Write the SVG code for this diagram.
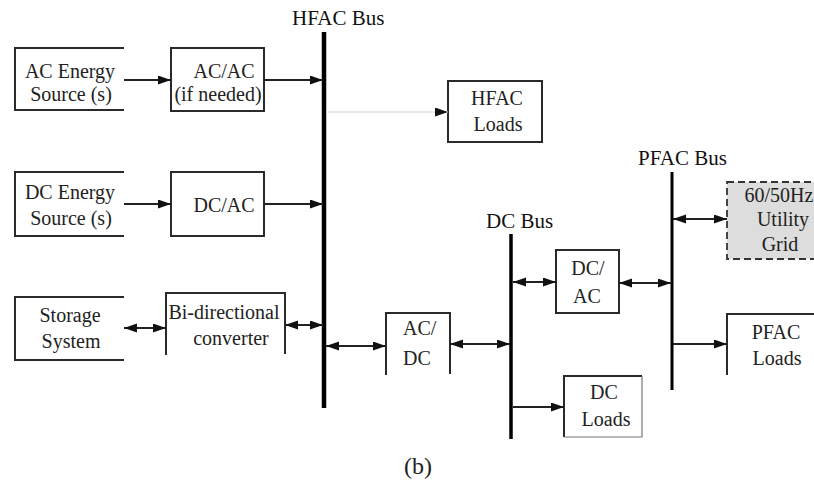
<svg xmlns="http://www.w3.org/2000/svg" width="814" height="484" viewBox="0 0 814 484">
<style>
  .box { fill: none; stroke: #2a2a2a; stroke-width: 2; }
  .t { font-family: "Liberation Serif", "Times New Roman", serif; font-size: 20px; fill: #222; text-anchor: middle; }
  .lbl { font-family: "Liberation Serif", "Times New Roman", serif; font-size: 21px; fill: #111; text-anchor: start; }
  .bus { stroke: #000; fill: none; }
  .c { stroke: #222; stroke-width: 2; fill: none; marker-end: url(#ah); }
  .cb { stroke: #222; stroke-width: 2; fill: none; marker-end: url(#ah); marker-start: url(#ah); }
</style>
<defs>
  <marker id="ah" markerUnits="userSpaceOnUse" markerWidth="14" markerHeight="10" refX="13" refY="4.5" orient="auto-start-reverse">
    <path d="M0,0 L13,4.5 L0,9 z" fill="#111"/>
  </marker>
</defs>
<rect width="814" height="484" fill="#fff"/>

<g id="buses">
  <g id="hfac-bus">
    <line class="bus" x1="324" y1="32" x2="324" y2="408" stroke-width="4.5"/>
    <text class="lbl" x="292" y="25">HFAC Bus</text>
  </g>
  <g id="dc-bus">
    <line class="bus" x1="511" y1="234" x2="511" y2="439" stroke-width="3.5"/>
    <text class="lbl" x="486" y="228">DC Bus</text>
  </g>
  <g id="pfac-bus">
    <line class="bus" x1="672" y1="172" x2="672" y2="390" stroke-width="3"/>
    <text class="lbl" x="638" y="165">PFAC Bus</text>
  </g>
</g>

<g id="ac-source">
  <path class="box" d="M124,48 H15 V110 H124"/>
  <text class="t" x="70" y="78">AC Energy</text>
  <text class="t" x="71" y="101">Source (s)</text>
</g>
<g id="acac">
  <rect class="box" x="171" y="48" width="93" height="63"/>
  <text class="t" x="224" y="78">AC/AC</text>
  <text class="t" x="218" y="101">(if needed)</text>
</g>
<g id="dc-source">
  <path class="box" d="M124,172 H15 V236 H124"/>
  <text class="t" x="70" y="199">DC Energy</text>
  <text class="t" x="71" y="225">Source (s)</text>
</g>
<g id="dcac1">
  <rect class="box" x="171" y="172" width="93" height="64"/>
  <text class="t" x="224" y="212">DC/AC</text>
</g>
<g id="storage">
  <path class="box" d="M124,297 H15 V360 H124"/>
  <text class="t" x="70" y="322">Storage</text>
  <text class="t" x="71" y="348">System</text>
</g>
<g id="bidir">
  <path class="box" d="M166,355 V293 H285 V354"/>
  <text class="t" x="224" y="319">Bi-directional</text>
  <text class="t" x="231" y="345">converter</text>
</g>
<g id="hfac-loads">
  <rect class="box" x="448" y="81" width="94" height="61"/>
  <text class="t" x="497" y="105">HFAC</text>
  <text class="t" x="498" y="131">Loads</text>
</g>
<g id="acdc">
  <path class="box" d="M386,375 V313 H450 V374"/>
  <text class="t" x="403" y="335" style="text-anchor:start">AC/</text>
  <text class="t" x="403" y="365" style="text-anchor:start">DC</text>
</g>
<g id="dcac2">
  <rect class="box" x="556" y="250" width="63" height="63"/>
  <text class="t" x="588" y="275">DC/</text>
  <text class="t" x="587" y="303">AC</text>
</g>
<g id="dc-loads">
  <path class="box" d="M564,437 V376 H642"/>
  <path d="M642,376 V437 H564" fill="none" stroke="#777" stroke-width="1.2"/>
  <text class="t" x="604" y="399">DC</text>
  <text class="t" x="606" y="426">Loads</text>
</g>
<g id="utility-grid">
  <rect x="727" y="182" width="100" height="77" fill="#dddddd" stroke="#333" stroke-width="1.8" stroke-dasharray="7,4"/>
  <text class="t" x="779" y="202">60/50Hz</text>
  <text class="t" x="783" y="226">Utility</text>
  <text class="t" x="780" y="251">Grid</text>
</g>
<g id="pfac-loads">
  <path class="box" d="M727,375 V314 H816"/>
  <text class="t" x="776" y="339">PFAC</text>
  <text class="t" x="777" y="365">Loads</text>
</g>

<g id="connectors">
  <line class="c" x1="124" y1="80" x2="171" y2="80"/>
  <line class="c" x1="264" y1="80" x2="323" y2="80"/>
  <line x1="326" y1="112" x2="448" y2="112" stroke="#e2e2e2" stroke-width="1.5" marker-end="url(#ah)"/>
  <line class="c" x1="124" y1="204" x2="171" y2="204"/>
  <line class="c" x1="264" y1="204" x2="323" y2="204"/>
  <line class="cb" x1="124" y1="328" x2="166" y2="328"/>
  <line class="cb" x1="285" y1="325" x2="323" y2="325"/>
  <line class="cb" x1="326" y1="346" x2="386" y2="346"/>
  <line class="cb" x1="450" y1="344" x2="510" y2="344"/>
  <line class="cb" x1="513" y1="282" x2="556" y2="282"/>
  <line class="c" x1="513" y1="407" x2="564" y2="407"/>
  <line class="cb" x1="619" y1="283" x2="671" y2="283"/>
  <line class="cb" x1="673" y1="219" x2="727" y2="219"/>
  <line class="c" x1="673" y1="344" x2="727" y2="344"/>
</g>

<text x="418" y="474" style="font-family:'Liberation Serif','Times New Roman',serif;font-size:24px;fill:#222;text-anchor:middle">(b)</text>
</svg>
